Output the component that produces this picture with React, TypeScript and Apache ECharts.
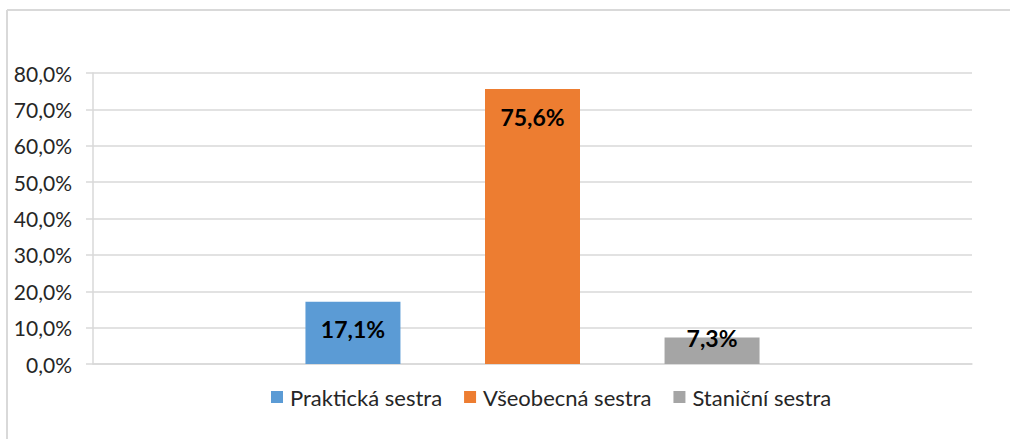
import React, { useEffect, useRef } from "react";
import * as echarts from "echarts";

const categories = [""];
const seriesNames = ["Praktická sestra", "Všeobecná sestra", "Staniční sestra"];
const seriesValues = [17.1, 75.6, 7.3];
const seriesColors = ["#5b9bd5", "#ed7d31", "#a5a5a5"];
const yTicks = { min: 0, max: 80, interval: 10 };

const FONT = "Lato, 'Open Sans', sans-serif";

export default function App() {
  const ref = useRef<HTMLDivElement>(null);
  useEffect(() => {
    if (!ref.current) return;
    const chart = echarts.init(ref.current, null, { renderer: "svg" });
    const fmt = (v: number) => v.toFixed(1).replace(".", ",") + "%";
    chart.setOption({
      animation: false,
      backgroundColor: "#ffffff",
      textStyle: { fontFamily: FONT },
      grid: { left: 93, right: 38, top: 73, bottom: 75, containLabel: false },
      legend: {
        left: 266,
        top: 381,
        itemWidth: 12,
        itemHeight: 12,
        itemGap: 22,
        icon: "rect",
        textStyle: { fontSize: 22, color: "#262626", fontFamily: FONT, padding: [0, 0, 0, 2] },
        data: seriesNames,
      },
      xAxis: {
        type: "category",
        data: categories,
        axisLine: { show: true, lineStyle: { color: "#d9d9d9", width: 1.5 } },
        axisTick: { show: false },
        axisLabel: { show: false },
      },
      yAxis: {
        type: "value",
        min: yTicks.min,
        max: yTicks.max,
        interval: yTicks.interval,
        axisLine: { show: true, lineStyle: { color: "#d9d9d9", width: 1.5 } },
        axisTick: { show: true, length: 7, lineStyle: { color: "#d9d9d9", width: 1.5 } },
        splitLine: { show: true, lineStyle: { color: "#d9d9d9", width: 1.5 } },
        axisLabel: {
          formatter: fmt,
          fontSize: 21,
          color: "#262626",
          margin: 21,
          fontFamily: FONT,
        },
      },
      series: seriesNames.map((name, i) => ({
        name,
        type: "bar",
        barWidth: 95,
        barGap: "89%",
        itemStyle: { color: seriesColors[i] },
        data: [
          {
            value: seriesValues[i],
            label: i === 2 ? { offset: [0, -27] } : {},
          },
        ],
        label: {
          show: true,
          position: "insideTop",
          distance: 16,
          formatter: (p: any) => fmt(p.value),
          fontSize: 23,
          fontWeight: "bold",
          color: "#000000",
          fontFamily: FONT,
        },
      })),
      graphic: [
        {
          type: "line",
          shape: { x1: 7, y1: 10, x2: 1010, y2: 10 },
          style: { stroke: "#d9d9d9", lineWidth: 2 },
        },
        {
          type: "line",
          shape: { x1: 7, y1: 10, x2: 7, y2: 439 },
          style: { stroke: "#d9d9d9", lineWidth: 2 },
        },
      ],
    });
    return () => chart.dispose();
  }, []);
  return (
    <div
      ref={ref}
      style={{ position: "fixed", left: 0, top: 0, width: 1010, height: 439, background: "#fff" }}
    />
  );
}
